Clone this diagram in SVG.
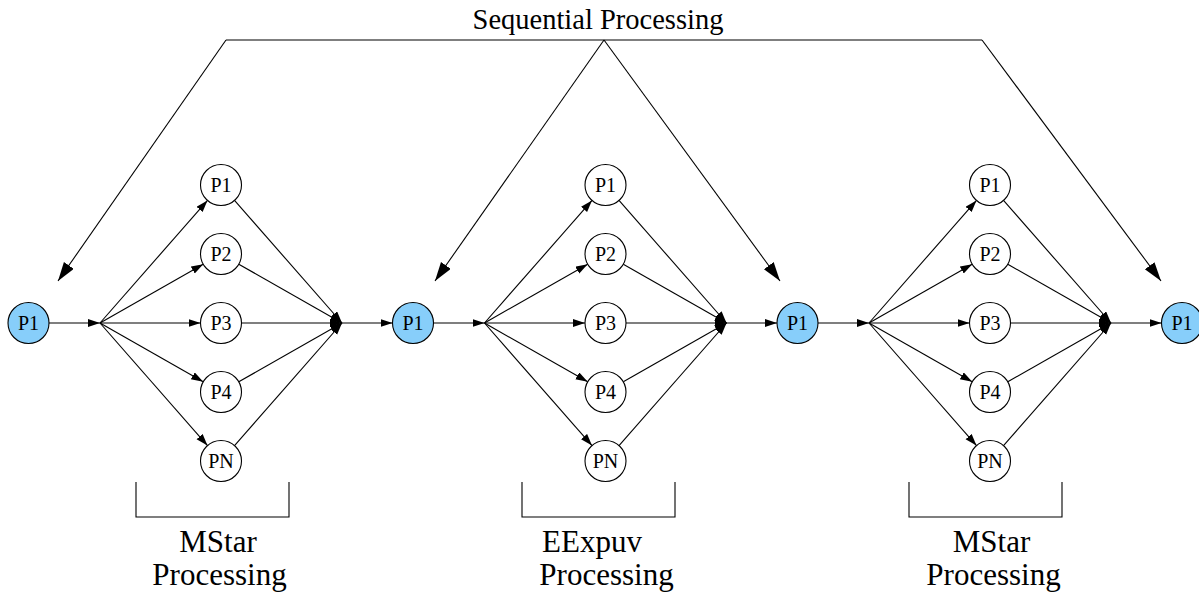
<svg xmlns="http://www.w3.org/2000/svg" width="1199" height="594" viewBox="0 0 1199 594">
<style>
.n{fill:#fff;stroke:#000;stroke-width:1.1}
.b{fill:#87cefa;stroke:#000;stroke-width:1.1}
.t{font-family:"Liberation Serif","Times New Roman",serif;font-size:20px;text-anchor:middle;fill:#000}
.l{font-family:"Liberation Serif","Times New Roman",serif;font-size:31px;text-anchor:middle;fill:#000}
.e{fill:none;stroke:#000;stroke-width:1.1}
.s{marker-end:url(#sa)}
.g{marker-end:url(#la)}
</style>
<defs>
<marker id="sa" markerUnits="userSpaceOnUse" markerWidth="14" markerHeight="10" refX="12" refY="4" orient="auto"><path d="M0,0 L12,4 L0,8 z" fill="#000"/></marker>
<marker id="la" markerUnits="userSpaceOnUse" markerWidth="22" markerHeight="14" refX="19" refY="6" orient="auto"><path d="M0,0 L19,6 L0,12 z" fill="#000"/></marker>
</defs>
<rect width="1199" height="594" fill="#fff"/>
<g id="connectors">
<path class="e" d="M226,40 H982"/>
<path class="e g" d="M226,40 L58,281"/>
<path class="e g" d="M604,40 L435,281"/>
<path class="e g" d="M604,40 L780,281"/>
<path class="e g" d="M982,40 L1161,281"/>
<g id="stage1">
<path class="e s" d="M49,323 H100"/>
<path class="e s" d="M100,323 L207.5,200.4"/>
<path class="e s" d="M100,323 L203.2,264.2"/>
<path class="e s" d="M100,323 L200.5,323"/>
<path class="e s" d="M100,323 L203.2,381.8"/>
<path class="e s" d="M100,323 L207.5,445.6"/>
<path class="e s" d="M234.5,200.4 L342,323"/>
<path class="e s" d="M238.8,264.2 L342,323"/>
<path class="e s" d="M241.5,323 L342,323"/>
<path class="e s" d="M238.8,381.8 L342,323"/>
<path class="e s" d="M234.5,445.6 L342,323"/>
<path class="e s" d="M342,323 H392.5"/>
</g>
<g id="stage2" transform="translate(384.5,0)">
<path class="e s" d="M100,323 L207.5,200.4"/>
<path class="e s" d="M100,323 L203.2,264.2"/>
<path class="e s" d="M100,323 L200.5,323"/>
<path class="e s" d="M100,323 L203.2,381.8"/>
<path class="e s" d="M100,323 L207.5,445.6"/>
<path class="e s" d="M234.5,200.4 L342,323"/>
<path class="e s" d="M238.8,264.2 L342,323"/>
<path class="e s" d="M241.5,323 L342,323"/>
<path class="e s" d="M238.8,381.8 L342,323"/>
<path class="e s" d="M234.5,445.6 L342,323"/>
<path class="e s" d="M342,323 H392.5"/>
<path class="e s" d="M49,323 H100"/>
</g>
<g id="stage3" transform="translate(769,0)">
<path class="e s" d="M100,323 L207.5,200.4"/>
<path class="e s" d="M100,323 L203.2,264.2"/>
<path class="e s" d="M100,323 L200.5,323"/>
<path class="e s" d="M100,323 L203.2,381.8"/>
<path class="e s" d="M100,323 L207.5,445.6"/>
<path class="e s" d="M234.5,200.4 L342,323"/>
<path class="e s" d="M238.8,264.2 L342,323"/>
<path class="e s" d="M241.5,323 L342,323"/>
<path class="e s" d="M238.8,381.8 L342,323"/>
<path class="e s" d="M234.5,445.6 L342,323"/>
<path class="e s" d="M342,323 H392.5"/>
<path class="e s" d="M49,323 H100"/>
</g>
</g>
<text class="l" x="598" y="29" style="font-size:28.5px">Sequential Processing</text>
<g id="seq1"><circle class="b" cx="28.5" cy="323" r="20.5"/><text class="t" x="28.5" y="330">P1</text></g>
<g id="seq2"><circle class="b" cx="413" cy="323" r="20.5"/><text class="t" x="413" y="330">P1</text></g>
<g id="seq3"><circle class="b" cx="797.5" cy="323" r="20.5"/><text class="t" x="797.5" y="330">P1</text></g>
<g id="seq4"><circle class="b" cx="1182" cy="323" r="20.5"/><text class="t" x="1182" y="330">P1</text></g>
<g id="a1"><circle class="n" cx="221" cy="185" r="20.5"/><text class="t" x="221" y="192">P1</text></g>
<g id="a2"><circle class="n" cx="221" cy="254" r="20.5"/><text class="t" x="221" y="261">P2</text></g>
<g id="a3"><circle class="n" cx="221" cy="323" r="20.5"/><text class="t" x="221" y="330">P3</text></g>
<g id="a4"><circle class="n" cx="221" cy="392" r="20.5"/><text class="t" x="221" y="399">P4</text></g>
<g id="a5"><circle class="n" cx="221" cy="461" r="20.5"/><text class="t" x="221" y="468">PN</text></g>
<g id="b1"><circle class="n" cx="605.5" cy="185" r="20.5"/><text class="t" x="605.5" y="192">P1</text></g>
<g id="b2"><circle class="n" cx="605.5" cy="254" r="20.5"/><text class="t" x="605.5" y="261">P2</text></g>
<g id="b3"><circle class="n" cx="605.5" cy="323" r="20.5"/><text class="t" x="605.5" y="330">P3</text></g>
<g id="b4"><circle class="n" cx="605.5" cy="392" r="20.5"/><text class="t" x="605.5" y="399">P4</text></g>
<g id="b5"><circle class="n" cx="605.5" cy="461" r="20.5"/><text class="t" x="605.5" y="468">PN</text></g>
<g id="c1"><circle class="n" cx="990" cy="185" r="20.5"/><text class="t" x="990" y="192">P1</text></g>
<g id="c2"><circle class="n" cx="990" cy="254" r="20.5"/><text class="t" x="990" y="261">P2</text></g>
<g id="c3"><circle class="n" cx="990" cy="323" r="20.5"/><text class="t" x="990" y="330">P3</text></g>
<g id="c4"><circle class="n" cx="990" cy="392" r="20.5"/><text class="t" x="990" y="399">P4</text></g>
<g id="c5"><circle class="n" cx="990" cy="461" r="20.5"/><text class="t" x="990" y="468">PN</text></g>
<g id="bracket1"><path class="e" d="M136,482 V517 H289 V482"/><text class="l" x="218" y="552">MStar</text><text class="l" x="219.5" y="585">Processing</text></g>
<g id="bracket2"><path class="e" d="M522,482 V517 H675 V482"/><text class="l" x="592" y="552">EExpuv</text><text class="l" x="606.5" y="585">Processing</text></g>
<g id="bracket3"><path class="e" d="M909,482 V517 H1062 V482"/><text class="l" x="991.5" y="552">MStar</text><text class="l" x="993.5" y="585">Processing</text></g>
</svg>
